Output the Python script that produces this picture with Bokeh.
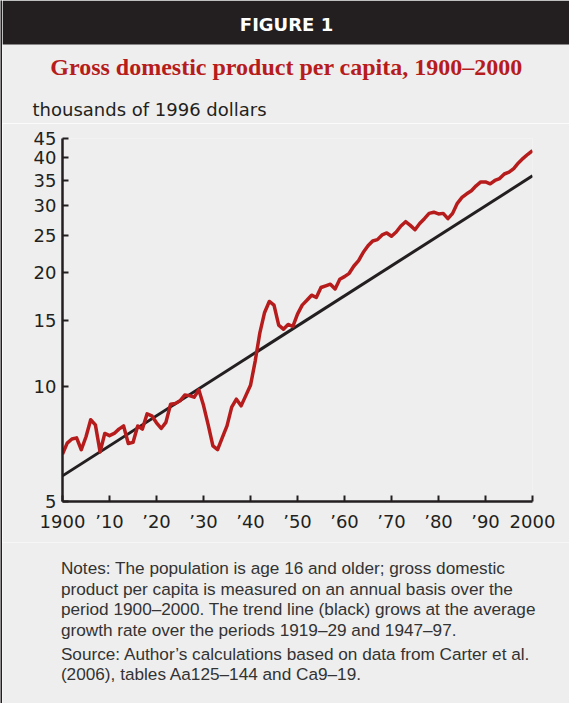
from bokeh.plotting import figure
from bokeh.models import Range1d, FixedTicker
from bokeh.layouts import column, row
from bokeh.core.properties import value
from bokeh.embed import file_html
from bokeh.resources import INLINE

# ---- data ----
years = list(range(1900, 2001))
gdp_per_capita = [
    6.66, 7.12, 7.30, 7.35, 6.84, 7.40, 8.20, 7.95, 6.75, 7.55,   # 1900s
    7.45, 7.55, 7.75, 7.90, 7.10, 7.15, 7.90, 7.75, 8.50, 8.40,   # 1910s
    8.05, 7.78, 8.07, 9.01, 9.05, 9.20, 9.52, 9.49, 9.40, 9.83,   # 1920s
    8.95, 7.95, 7.00, 6.84, 7.36, 7.90, 8.85, 9.29, 8.92, 9.49,   # 1930s
    10.10, 11.70, 13.90, 15.70, 16.78, 16.41, 14.54, 14.19, 14.60, 14.42,  # 1940s
    15.54, 16.41, 16.90, 17.43, 17.19, 18.26, 18.45, 18.63, 18.10, 19.20,  # 1950s
    19.50, 19.90, 20.80, 21.50, 22.60, 23.50, 24.20, 24.40, 25.10, 25.40,  # 1960s
    24.90, 25.55, 26.50, 27.20, 26.60, 25.90, 26.90, 27.70, 28.60, 28.80,  # 1970s
    28.50, 28.60, 27.70, 28.60, 30.40, 31.50, 32.20, 32.80, 33.80, 34.60,  # 1980s
    34.60, 34.20, 34.90, 35.30, 36.30, 36.70, 37.50, 38.80, 39.90, 40.90,  # 1990s
    41.80,
]
trend_years = [1900, 2000]
trend_values = [5.84, 35.9]

x_ticks = [1900, 1910, 1920, 1930, 1940, 1950, 1960, 1970, 1980, 1990, 2000]
x_tick_labels = ["1900", "\u201910", "\u201920", "\u201930", "\u201940", "\u201950",
                 "\u201960", "\u201970", "\u201980", "\u201990", "2000"]
y_ticks = [5, 10, 15, 20, 25, 30, 35, 40, 45]
y_tick_labels = ["5", "10", "15", "20", "25", "30", "35", "40", "45"]

header_text = "FIGURE 1"
title_text = "Gross domestic product per capita, 1900\u20132000"
y_label_text = "thousands of 1996 dollars"
note_lines = [
    "Notes: The population is age 16 and older; gross domestic",
    "product per capita is measured on an annual basis over the",
    "period 1900\u20132000. The trend line (black) grows at the average",
    "growth rate over the periods 1919\u201329 and 1947\u201397.",
    "Source: Author\u2019s calculations based on data from Carter et al.",
    "(2006), tables Aa125\u2013144 and Ca9\u201319.",
]

# ---- styles ----
BG = "#eeeeee"
DARK = "#231f20"
RED = "#b71c1c"
TXT = "#231f20"
NOTE = "#333333"
SANS = "DejaVu Sans"

W = 567


def blank(width, height, fill=BG):
    f = figure(width=width, height=height,
               x_range=Range1d(0, width), y_range=Range1d(0, height),
               x_axis_location=None, y_axis_location=None,
               output_backend="svg", toolbar_location=None,
               min_border=0, frame_align=False)
    f.background_fill_color = fill
    f.border_fill_color = fill
    f.outline_line_color = None
    f.grid.visible = False
    return f


# left rule
bar = blank(2, 703, fill=DARK)

# header panel: 567 x 123
top = blank(W, 123)
top.quad(left=[0], right=[W], bottom=[79], top=[123], fill_color=DARK, line_color=None)
top.text(x=[284], y=[99], text=[header_text], text_font=value(SANS),
         text_font_style="bold", text_font_size="18px", text_color="white",
         text_align="center", text_baseline="middle")
top.text(x=[284], y=[57], text=[title_text], text_font=value("Liberation Serif"),
         text_font_style="bold", text_font_size="24px", text_color=RED,
         text_align="center", text_baseline="middle")
top.text(x=[30], y=[14], text=[y_label_text], text_font=value(SANS),
         text_font_size="18px", text_color=TXT,
         text_align="left", text_baseline="middle")

# main chart: 567 x 419
p = figure(width=W, height=419, y_axis_type="log",
           x_range=Range1d(1900, 2000), y_range=Range1d(5, 45),
           output_backend="svg", toolbar_location=None, frame_align=False,
           min_border_left=60, min_border_right=37,
           min_border_top=15, min_border_bottom=41)
p.background_fill_color = BG
p.border_fill_color = BG
p.outline_line_color = None
p.xgrid.visible = False
p.ygrid.visible = False

p.line(trend_years, trend_values, line_color=DARK, line_width=3)
p.line(years, gdp_per_capita, line_color=RED, line_width=3.5, line_join="round")

for ax in (p.xaxis[0], p.yaxis[0]):
    ax.axis_line_color = DARK
    ax.axis_line_width = 2.5
    ax.major_tick_line_color = DARK
    ax.major_tick_line_width = 2
    ax.major_tick_in = 6
    ax.major_tick_out = 0
    ax.minor_tick_line_color = None
    ax.major_label_text_font = SANS
    ax.major_label_text_font_size = "18px"
    ax.major_label_text_color = TXT

p.xaxis.ticker = FixedTicker(ticks=x_ticks)
p.xaxis.major_label_overrides = dict(zip(x_ticks, x_tick_labels))
p.xaxis.major_label_standoff = 9
p.yaxis.ticker = FixedTicker(ticks=y_ticks)
p.yaxis.major_label_overrides = dict(zip(y_ticks, y_tick_labels))
p.yaxis.major_label_standoff = 6

# notes panel: 567 x 161
bottom = blank(W, 161)
note_y = [135.3, 114.8, 94.2, 73.7, 50.0, 29.4]
bottom.text(x=[58.4] * len(note_lines), y=note_y, text=note_lines,
            text_font=value("Liberation Sans"), text_font_size="17.2px", text_color=NOTE,
            text_align="left", text_baseline="middle")

layout = row(bar, column(top, p, bottom, spacing=0), spacing=0)
open("out.html", "w").write(file_html(layout, INLINE))
